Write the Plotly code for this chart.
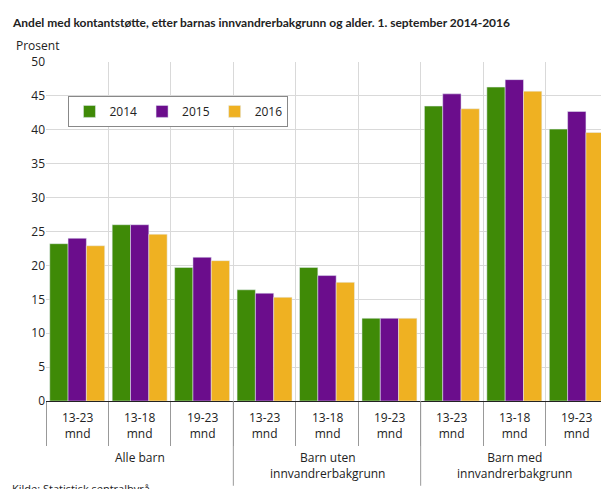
import plotly.graph_objects as go

categories = ["13-23<br>mnd", "13-18<br>mnd", "19-23<br>mnd"] * 3
groups = ["Alle barn", "Barn uten<br>innvandrerbakgrunn", "Barn med<br>innvandrerbakgrunn"]
years = ["2014", "2015", "2016"]
v2014 = [23.2, 26.0, 19.7, 16.4, 19.7, 12.2, 43.5, 46.3, 40.1]
v2015 = [24.0, 26.0, 21.2, 15.9, 18.5, 12.2, 45.3, 47.4, 42.7]
v2016 = [22.9, 24.6, 20.7, 15.3, 17.5, 12.2, 43.1, 45.7, 39.6]
colors = ["#3f8a07", "#6b0d8c", "#efb122"]

x = list(range(len(categories)))
fig = go.Figure()
for name, vals, c in zip(years, [v2014, v2015, v2016], colors):
    fig.add_trace(go.Bar(x=x, y=vals, name=name, marker_color=c))

fig.update_layout(
    width=609, height=489, barmode="group", bargap=0.12, bargroupgap=0,
    margin=dict(l=38, r=9, t=54, b=96),
    plot_bgcolor="white", paper_bgcolor="white",
    font=dict(family="Open Sans, sans-serif", size=12, color="#222"),
    legend=dict(orientation="h", x=0.04, y=0.9, xanchor="left", yanchor="top",
                bordercolor="#888", borderwidth=1, font=dict(size=12),
                itemwidth=30, tracegroupgap=0),
    yaxis=dict(range=[0, 50], dtick=5, gridcolor="#d9d9d9", zeroline=False,
               showline=False, ticks=""),
    xaxis=dict(range=[-0.5, 8.5], tickvals=[i - 0.5 for i in range(10)],
               ticktext=[""] * 10, showgrid=True, gridcolor="#d9d9d9",
               ticks="outside", ticklen=44, tickcolor="#999",
               showline=True, linecolor="#222"),
)
for i, c in enumerate(categories):
    fig.add_annotation(x=i, y=0, yref="paper", yshift=-6, text=c, showarrow=False,
                       yanchor="top", font=dict(size=12))
for g, gname in enumerate(groups):
    fig.add_annotation(x=3 * g + 1, y=0, yref="paper", yshift=-46, text=gname,
                       showarrow=False, yanchor="top", font=dict(size=12))
for b in [2.5, 5.5]:
    fig.add_shape(type="line", x0=b, x1=b, y0=0, y1=-0.25, yref="paper",
                  line=dict(color="#999", width=1))
fig.add_annotation(x=0, xref="paper", xanchor="left", y=1, yref="paper", yanchor="bottom",
                   yshift=6, xshift=-32, text="Prosent", showarrow=False, font=dict(size=12))
fig.add_annotation(x=0, xref="paper", xanchor="left", y=1, yref="paper", yanchor="bottom",
                   yshift=30, xshift=-36, showarrow=False,
                   font=dict(size=12, family="Lato, sans-serif"),
                   text="<b>Andel med kontantstøtte, etter barnas innvandrerbakgrunn og alder. 1. september 2014-2016</b>")
fig.add_annotation(x=0, xref="paper", xanchor="left", y=0, yref="paper", yanchor="top",
                   yshift=-78, xshift=-36, showarrow=False, font=dict(size=11),
                   text="Kilde: Statistisk sentralbyrå")
fig.write_html("out.html")
